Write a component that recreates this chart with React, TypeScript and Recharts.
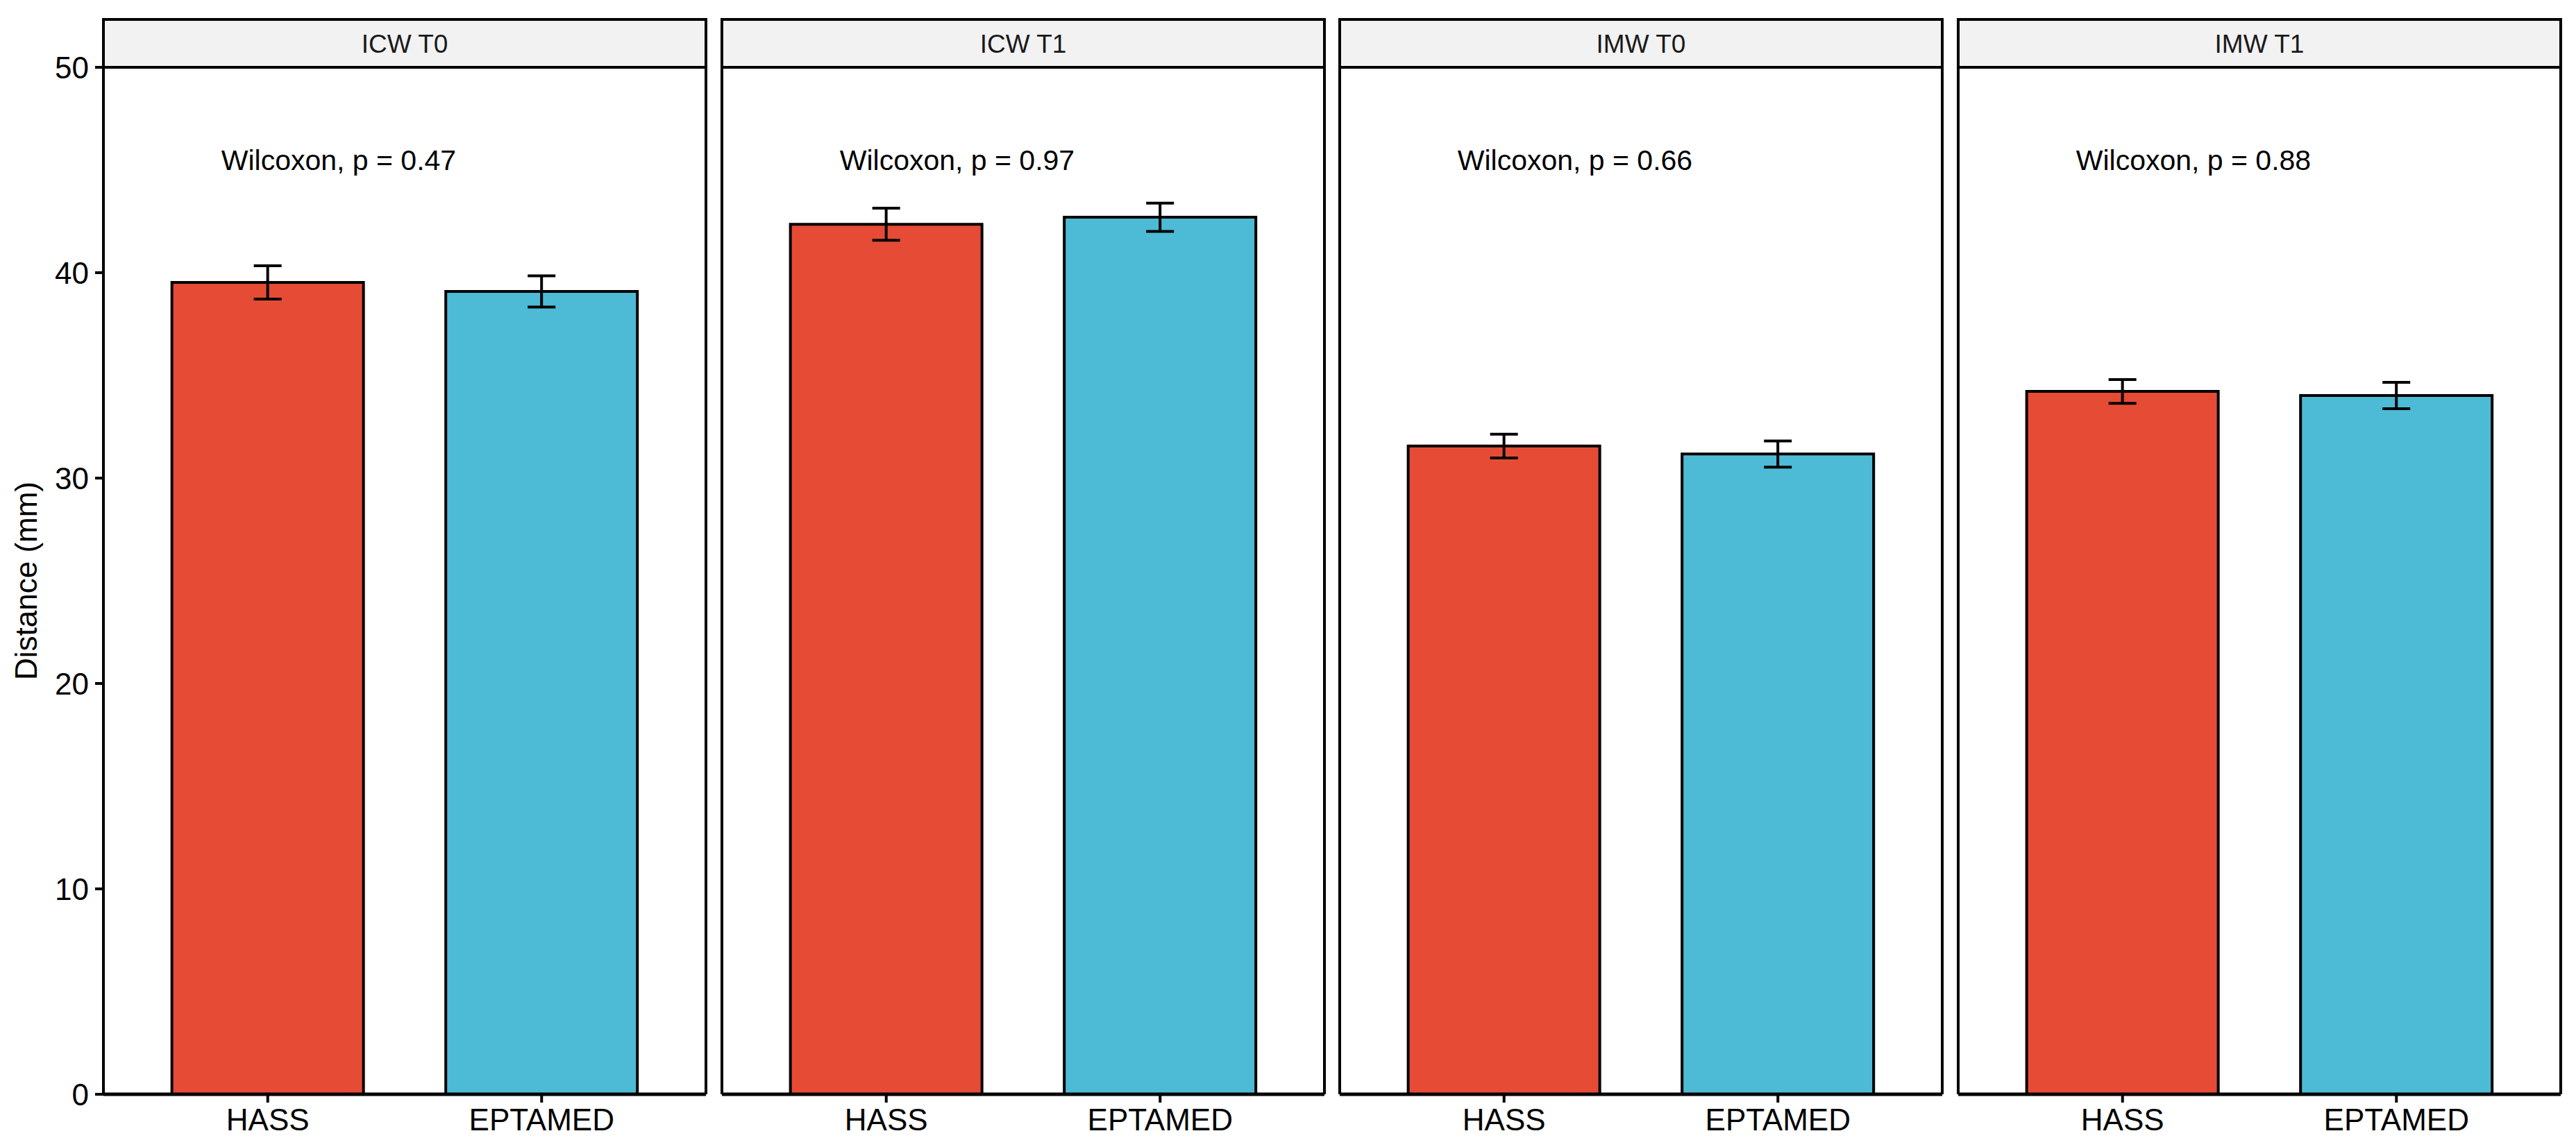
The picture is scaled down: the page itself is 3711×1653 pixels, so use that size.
import { Bar, BarChart, Cell, ErrorBar, ReferenceDot, XAxis, YAxis } from "recharts"

// data (mean ± se, mm)
const facets = ["ICW T0", "ICW T1", "IMW T0", "IMW T1"]
const groups = ["HASS", "EPTAMED"]
const hassMean = [39.53, 42.36, 31.56, 34.22]
const hassSe = [0.81, 0.78, 0.58, 0.58]
const eptamedMean = [39.09, 42.7, 31.17, 34.02]
const eptamedSe = [0.76, 0.69, 0.64, 0.64]
const pValues = ["0.47", "0.97", "0.66", "0.88"]
const yTicks = [0, 10, 20, 30, 40, 50]
const labelY = 45

const groupColors = ["#E64B35", "#4DBBD5"]

const FONT = '"Liberation Sans", Arial, Helvetica, sans-serif'
const W = 3711
const H = 1653
const PANEL_W = 868
const PANEL_LEFT = 149
const PANEL_STEP = 890.7
const TOP = 28
const STRIP_H = 69
const BOTTOM_AXIS_H = 70
const BOTTOM_MARGIN = 6
const PAD = (PANEL_W * 0.1) / 2.2
const EXTRA = 4
const BORDER = 4

function StripLabel({ viewBox, title }: any) {
  const { x, y, width, height } = viewBox
  return (
    <g>
      <rect x={x} y={y} width={width} height={height} fill="#F2F2F2" stroke="#000" strokeWidth={BORDER} />
      <text x={x + width / 2} y={y + 48} textAnchor="middle" fontSize={37} fill="#1A1A1A" fontFamily={FONT}>
        {title}
      </text>
    </g>
  )
}

function YTitle({ viewBox }: any) {
  const cx = viewBox.x + 53
  const cy = viewBox.y + viewBox.height / 2
  return (
    <text x={cx} y={cy} transform={`rotate(-90 ${cx} ${cy})`} textAnchor="middle" fontSize={44} fill="#000" fontFamily={FONT}>
      Distance (mm)
    </text>
  )
}

function PLabel({ viewBox, p }: any) {
  return (
    <text x={viewBox.x - 67} y={viewBox.y} textAnchor="start" fontSize={41} fill="#000" fontFamily={FONT}>
      {`Wilcoxon, p = ${p}`}
    </text>
  )
}

function Panel({ index }: { index: number }) {
  const first = index === 0
  const panelLeft = PANEL_LEFT + index * PANEL_STEP
  const left = first ? 0 : panelLeft - EXTRA - 1
  const width = (first ? PANEL_LEFT : EXTRA + 1) + PANEL_W + EXTRA + 1
  const data = groups.map((g, j) => ({
    group: g,
    value: j === 0 ? hassMean[index] : eptamedMean[index],
    err: j === 0 ? hassSe[index] : eptamedSe[index],
  }))

  return (
    <div style={{ position: "absolute", left, top: 0 }}>
      <BarChart
        width={width}
        height={H}
        data={data}
        margin={{ top: TOP, right: EXTRA, bottom: BOTTOM_MARGIN, left: first ? 0 : EXTRA }}
        barCategoryGap="15%"
      >
        <XAxis
          xAxisId="t"
          orientation="top"
          dataKey="group"
          height={STRIP_H}
          tick={false}
          tickLine={false}
          axisLine={{ stroke: "#000", strokeWidth: BORDER }}
          label={{ content: (p: any) => <StripLabel viewBox={p.viewBox} title={facets[index]} /> }}
        />
        <XAxis
          xAxisId="b"
          dataKey="group"
          height={BOTTOM_AXIS_H}
          padding={{ left: PAD, right: PAD }}
          interval={0}
          tickSize={12}
          tickMargin={9}
          tickLine={{ stroke: "#000", strokeWidth: 4 }}
          axisLine={{ stroke: "#000", strokeWidth: 5 }}
          tick={{ fontSize: 44, fill: "#000", fontFamily: FONT }}
        />
        <YAxis
          yAxisId="l"
          type="number"
          domain={[0, 50]}
          ticks={yTicks}
          width={first ? PANEL_LEFT : 1}
          tickSize={first ? 12 : 0}
          tickMargin={9}
          tick={first ? { fontSize: 44, fill: "#000", fontFamily: FONT } : false}
          tickLine={first ? { stroke: "#000", strokeWidth: 4 } : false}
          axisLine={{ stroke: "#000", strokeWidth: BORDER }}
          label={first ? { content: (p: any) => <YTitle viewBox={p.viewBox} /> } : undefined}
        />
        <YAxis
          yAxisId="r"
          orientation="right"
          type="number"
          domain={[0, 50]}
          ticks={yTicks}
          width={1}
          tickSize={0}
          tick={false}
          tickLine={false}
          axisLine={{ stroke: "#000", strokeWidth: BORDER }}
        />
        <Bar xAxisId="b" yAxisId="l" dataKey="value" stroke="#000" strokeWidth={4} isAnimationActive={false}>
          {data.map((d, j) => (
            <Cell key={d.group} fill={groupColors[j]} />
          ))}
          <ErrorBar dataKey="err" width={20} stroke="#000" strokeWidth={4} direction="y" isAnimationActive={false} />
        </Bar>
        <ReferenceDot
          xAxisId="b"
          yAxisId="l"
          x="HASS"
          y={labelY}
          r={0}
          stroke="none"
          fill="none"
          label={{ content: (p: any) => <PLabel viewBox={p.viewBox} p={pValues[index]} /> }}
        />
      </BarChart>
    </div>
  )
}

export default function App() {
  return (
    <div style={{ position: "relative", width: W, height: H, background: "#fff", fontFamily: FONT }}>
      <style>{"body{margin:0}"}</style>
      {facets.map((f, i) => (
        <Panel key={f} index={i} />
      ))}
    </div>
  )
}
